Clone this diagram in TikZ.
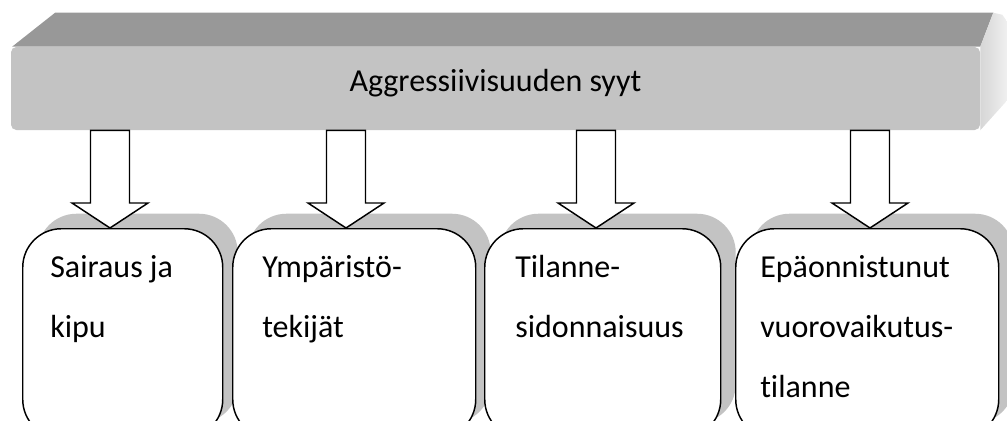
\documentclass[tikz,border=0pt]{standalone}
\usepackage{fontspec}
\setmainfont{Carlito}[Ligatures=NoCommon]
\usetikzlibrary{calc,shadows}
\definecolor{barfront}{HTML}{C3C3C3}
\definecolor{bartop}{HTML}{989898}
\definecolor{sidea}{HTML}{D6D6D6}
\definecolor{sideb}{HTML}{F0F0F0}
% block arrow: #1 top of shaft, #2 tip
\newcommand\fatarrow[2]{\draw[fat] ($(#1)+(-19.5,0)$) -- ($(#2)+(-19.5,-25)$) -- ($(#2)+(-38,-25)$) -- (#2)
  -- ($(#2)+(38,-25)$) -- ($(#2)+(19.5,-25)$) -- ($(#1)+(19.5,0)$) -- cycle;}
\begin{document}
\begin{tikzpicture}[x=0.75pt, y=-0.75pt, font=\fontsize{24pt}{45pt}\selectfont,
  cause/.style={draw, line width=1.1pt, fill=white, rounded corners=29pt, anchor=north west, minimum height=157pt,
    drop shadow={shadow xshift=11.25pt, shadow yshift=11.25pt, opacity=1, draw=none, fill=barfront}},
  lbl/.style={anchor=base west, align=left, inner sep=0pt},
  fat/.style={draw, line width=1.1pt, fill=white, line join=miter}]
\clip (0,0) rectangle (1007,421);
% top bar
\node[fill=barfront, rounded corners=4pt, minimum width=726.75pt, minimum height=62.25pt, inner sep=0pt,
  text height=16pt, text depth=11.2pt] (bar) at (495.5,88.5) {Aggressiivisuuden syyt};
\fill[bartop] ([xshift=1pt]bar.north west) -- ++(43,-34) -- ($(bar.north east)+(13,-34)$) -- (bar.north east) -- cycle;
\shade[left color=sidea, right color=sideb] (bar.north east) -- ++(13,-34) -- ++(9,2) -- ++(5,7)
  -- ($(bar.south east)+(27,-30)$) -- (bar.south east) -- cycle;
% causes
\node[cause, minimum width=150pt] (sai) at (22,228) {};
\node[cause, minimum width=182.25pt] (ymp) at (232,228) {};
\node[cause, minimum width=177pt] (til) at (484,228) {};
\node[cause, minimum width=197.25pt] (epa) at (735,228) {};
% text anchored on the baseline of its last line
\node[lbl] (sai-t) at ($(sai.north west)+(28,109)$) {Sairaus ja\\kipu};
\node[lbl] (ymp-t) at ($(ymp.north west)+(30,109)$) {Ympäristö-\\tekijät};
\node[lbl] (til-t) at ($(til.north west)+(31,109)$) {Tilanne-\\sidonnaisuus};
\node[lbl] (epa-t) at ($(epa.north west)+(25,169)$) {Epäonnistunut\\vuorovaikutus-\\tilanne};
% arrows
\path ($(sai.north west)+(88,0)$) coordinate (t1) ($(ymp.north west)+(114,0)$) coordinate (t2)
  ($(til.north west)+(112,0)$) coordinate (t3) ($(epa.north west)+(135,0)$) coordinate (t4);
\fatarrow{t1 |- bar.south}{t1}
\fatarrow{t2 |- bar.south}{t2}
\fatarrow{t3 |- bar.south}{t3}
\fatarrow{t4 |- bar.south}{t4}
\end{tikzpicture}
\end{document}
